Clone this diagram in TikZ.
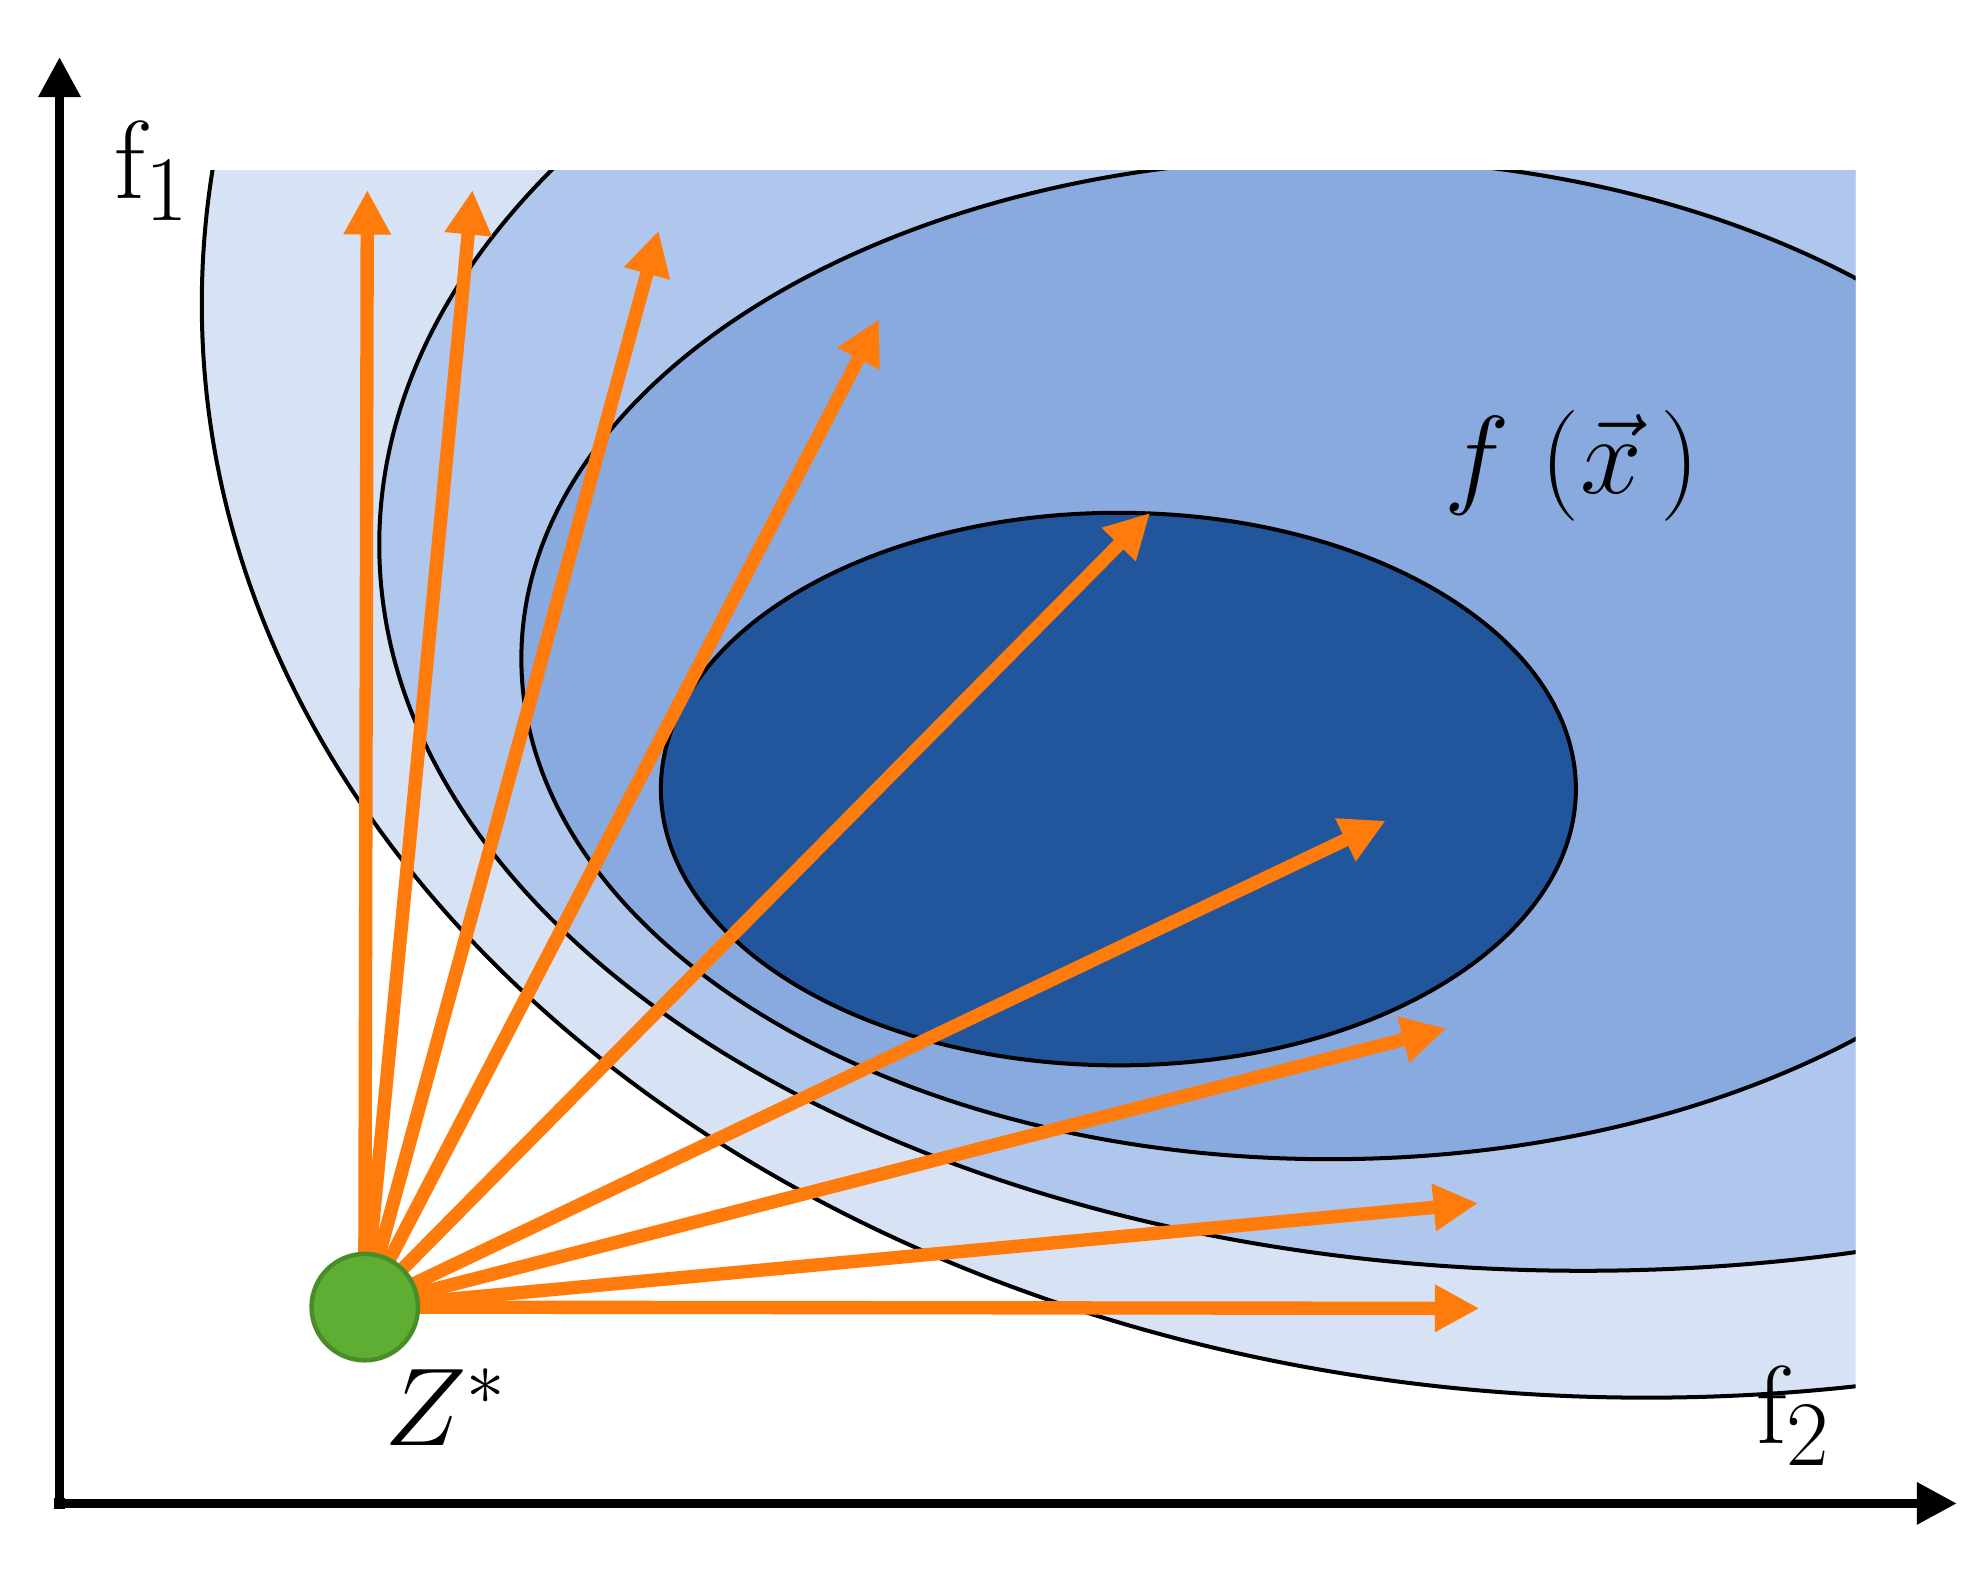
\documentclass[tikz,border=0pt]{standalone}
\usetikzlibrary{arrows.meta}
\definecolor{blA}{HTML}{D7E2F5}
\definecolor{blB}{HTML}{AFC7EC}
\definecolor{blC}{HTML}{89AADF}
\definecolor{blD}{HTML}{22569C}
\definecolor{orng}{HTML}{FF7B0C}
\definecolor{grn}{HTML}{5EAE34}
\definecolor{grnd}{HTML}{4A8D28}
\tikzset{
  axisline/.style={line width=2.1pt, line join=miter, -{Triangle[length=9pt,width=9pt]}},
  ray/.style={draw=orng, line width=3pt, -{Triangle[length=10pt,width=10pt]}},
  contour/.style={draw=black, line width=0.9pt},
  lbl/.style={inner sep=0pt, anchor=base west},
}
\begin{document}
\begin{tikzpicture}[x=0.01cm,y=-0.01cm]
\useasboundingbox (0,0) rectangle (1568,1246);
\fill[white] (0,0) rectangle (1568,1246);
% contour ellipses clipped by plot window
\begin{scope}
  \clip (0,135) rectangle (1465,1240);
  \path[contour, fill=blA] (1300,240) ellipse [x radius=11.40cm, y radius=8.63cm];
  \path[contour, fill=blB] (1250,430) ellipse [x radius=9.50cm, y radius=5.73cm];
  \path[contour, fill=blC] (1050,520) ellipse [x radius=6.38cm, y radius=3.95cm];
\end{scope}
\path[contour, fill=blD] (883,623) ellipse [x radius=3.61cm, y radius=2.18cm];
% axes
\coordinate (org) at (47,1187);
\coordinate (ytip) at (47,45);
\coordinate (xtip) at (1545,1187);
\draw[axisline] (org) -- (ytip);
\draw[axisline] (org) -- (xtip);
\fill (42.5,1183) rectangle (51.5,1191.5);
% rays
\coordinate (zc) at (288,1032);
\coordinate (t1) at (290,150);
\coordinate (t2) at (373,150);
\coordinate (t3) at (520,182);
\coordinate (t4) at (694,252);
\coordinate (t5) at (908,405);
\coordinate (t6) at (1094,648);
\coordinate (t7) at (1142,812);
\coordinate (t8) at (1167,950);
\coordinate (t9) at (1168,1033);
\foreach \t in {t1,t2,t3,t4,t5,t6,t7,t8,t9} \draw[ray] (zc) -- (\t);
\node[circle, fill=grn, draw=grnd, line width=1pt, minimum size=0.84cm, inner sep=0pt] (z) at (zc) {};
% labels
\node[lbl] (f1) at (90,157) {\fontsize{30}{36}\selectfont $\mathrm{f}_{1}$};
\node[lbl] (f2) at (1386,1140) {\fontsize{30}{36}\selectfont $\mathrm{f}_{2}$};
\node[lbl] (zs) at (303,1141) {\fontsize{24}{28}\selectfont $Z^{*}$};
\node[lbl] (fx) at (1140,390) {\fontsize{28}{34}\selectfont $f\;(\vec{x}\,)$};
\end{tikzpicture}
\end{document}
